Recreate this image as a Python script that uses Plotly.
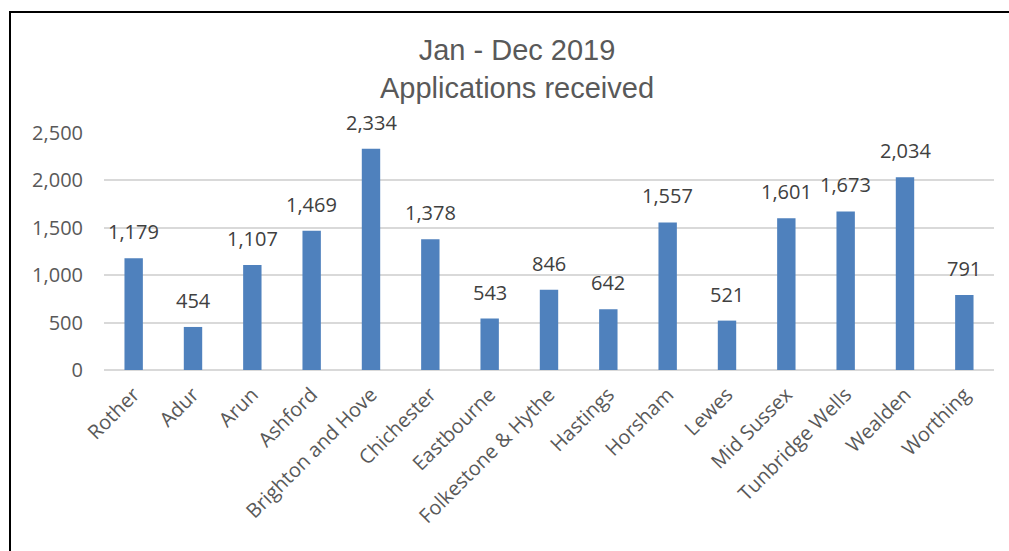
import plotly.graph_objects as go

categories = ["Rother", "Adur", "Arun", "Ashford", "Brighton and Hove", "Chichester",
              "Eastbourne", "Folkestone & Hythe", "Hastings", "Horsham", "Lewes",
              "Mid Sussex", "Tunbridge Wells", "Wealden", "Worthing"]
values = [1179, 454, 1107, 1469, 2334, 1378, 543, 846, 642, 1557, 521, 1601, 1673, 2034, 791]
y_ticks = [0, 500, 1000, 1500, 2000, 2500]

W, H = 1009, 551
ML, MR, MT, MB = 104, 15, 133, 181
pw = W - ML - MR
ph = H - MT - MB

fig = go.Figure()
fig.add_trace(go.Bar(
    x=categories, y=values,
    marker=dict(color="#4F81BD", line=dict(width=0)),
    hoverinfo="x+y",
))

annotations = []
for c, v in zip(categories, values):
    annotations.append(dict(
        x=c, y=v, xref="x", yref="y", text=f"{v:,}", showarrow=False,
        yanchor="bottom", yshift=11,
        font=dict(family="Open Sans", size=20, color="#404040"),
    ))

def px_x(p):
    return (p - ML) / pw

def px_y(p):
    return (H - MB - p) / ph

shapes = [
    dict(type="line", xref="paper", yref="paper", x0=px_x(10), x1=px_x(10),
         y0=px_y(12), y1=px_y(H + 5), line=dict(color="black", width=2)),
    dict(type="line", xref="paper", yref="paper", x0=px_x(9), x1=px_x(W + 5),
         y0=px_y(12), y1=px_y(12), line=dict(color="black", width=2)),
]

fig.update_layout(
    width=W, height=H,
    margin=dict(l=ML, r=MR, t=MT, b=MB),
    paper_bgcolor="white", plot_bgcolor="white",
    title=dict(text="Jan - Dec 2019<br>Applications received",
               x=517 / W, xref="container", xanchor="center",
               y=1 - 60 / H, yref="container", yanchor="middle",
               font=dict(family="Liberation Sans", size=29, color="#595959")),
    bargap=0.69,
    showlegend=False,
    annotations=annotations,
    shapes=shapes,
    xaxis=dict(tickangle=-45, showgrid=False, showline=False, ticks="",
               tickfont=dict(family="Open Sans", size=20, color="#595959"),
               ticklabelstandoff=8),
    yaxis=dict(range=[0, 2500], tickvals=y_ticks, tickformat=",",
               showgrid=True, gridcolor="#D9D9D9", gridwidth=1.5,
               zeroline=True, zerolinecolor="#D9D9D9", zerolinewidth=1.5,
               showline=False, ticks="",
               tickfont=dict(family="Open Sans", size=20, color="#595959"),
               ticklabelstandoff=20),
)

fig.write_html("out.html", config={"displayModeBar": False},
               post_script="document.body.style.margin='0';")
